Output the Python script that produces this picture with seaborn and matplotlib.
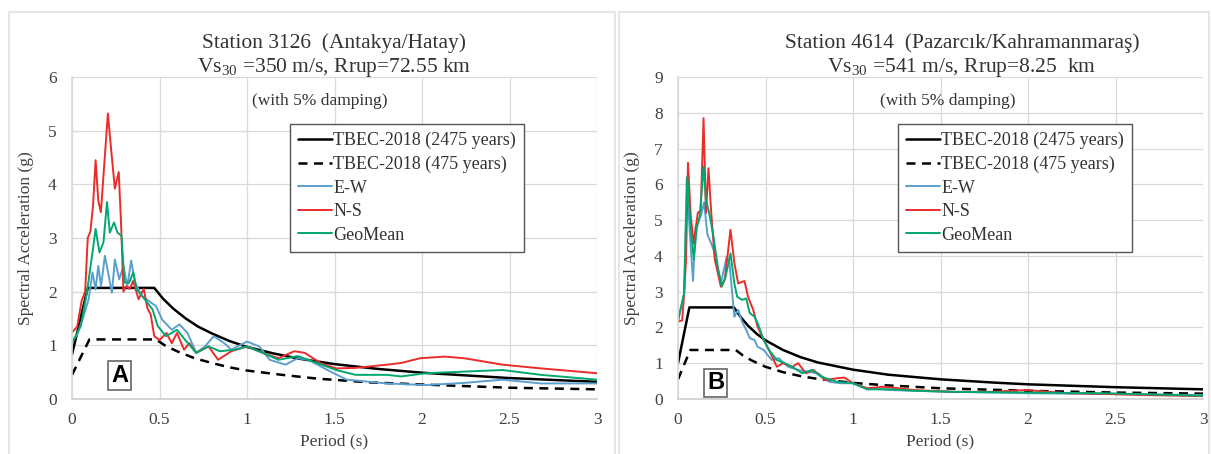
import numpy as np
import pandas as pd
import matplotlib.pyplot as plt
import seaborn as sns
from matplotlib.patches import Rectangle

# ---- data (period s, spectral acceleration g) ----
# Station 3126, design spectra
a_tbec2475_T = [0.0, 0.09, 0.47, 0.52, 0.58, 0.65, 0.72, 0.8, 0.9, 1.0, 1.15, 1.3, 1.5, 1.75, 2.0, 2.5, 3.0]
a_tbec2475 = [0.83, 2.07, 2.07, 1.87, 1.68, 1.50, 1.35, 1.22, 1.08, 0.97, 0.85, 0.75, 0.65, 0.56, 0.49, 0.39, 0.32]
a_tbec475_T = [0.0, 0.1, 0.48, 0.53, 0.6, 0.7, 0.8, 0.9, 1.0, 1.2, 1.4, 1.7, 2.0, 2.5, 3.0]
a_tbec475 = [0.45, 1.11, 1.11, 1.0, 0.89, 0.76, 0.67, 0.59, 0.53, 0.45, 0.38, 0.31, 0.27, 0.21, 0.18]

# Station 3126, recorded components
a_ew_T = [0.0, 0.03, 0.06, 0.095, 0.117, 0.135, 0.15, 0.166, 0.188, 0.21, 0.228, 0.245, 0.27, 0.294,
          0.316, 0.338, 0.36, 0.4, 0.45, 0.48, 0.515, 0.57, 0.614, 0.66, 0.71, 0.76, 0.81, 0.87, 0.91,
          1.0, 1.07, 1.13, 1.22, 1.29, 1.35, 1.46, 1.57, 1.8, 2.02, 2.24, 2.46, 2.68, 3.0]
a_ew = [1.07, 1.2, 1.48, 1.86, 2.36, 2.04, 2.48, 2.1, 2.67, 2.29, 1.98, 2.6, 2.23, 2.48,
        2.1, 2.58, 2.17, 1.92, 1.8, 1.73, 1.48, 1.29, 1.39, 1.23, 0.86, 0.98, 1.17, 1.04, 0.92,
        1.07, 0.98, 0.73, 0.64, 0.76, 0.73, 0.54, 0.36, 0.29, 0.26, 0.3, 0.36, 0.29, 0.29]
a_ns_T = [0.0, 0.03, 0.055, 0.075, 0.09, 0.105, 0.12, 0.135, 0.15, 0.165, 0.185, 0.205, 0.225, 0.245,
          0.267, 0.28, 0.294, 0.31, 0.33, 0.35, 0.38, 0.41, 0.43, 0.45, 0.47, 0.5, 0.54, 0.57, 0.6,
          0.64, 0.67, 0.71, 0.78, 0.835, 0.91, 1.0, 1.09, 1.18, 1.27, 1.33, 1.42, 1.51, 1.62, 1.8,
          1.88, 1.99, 2.13, 2.24, 2.46, 2.68, 3.0]
a_ns = [1.24, 1.35, 1.83, 2.0, 3.0, 3.12, 3.6, 4.45, 3.7, 3.48, 4.4, 5.32, 4.6, 3.92,
        4.23, 3.3, 2.0, 2.1, 2.05, 2.2, 1.86, 2.05, 1.7, 1.57, 1.17, 1.1, 1.23, 1.04, 1.23,
        0.92, 1.04, 0.86, 0.98, 0.73, 0.89, 0.98, 0.86, 0.76, 0.89, 0.86, 0.67, 0.57, 0.58, 0.64,
        0.67, 0.76, 0.79, 0.76, 0.64, 0.57, 0.48]
a_gm_T = [0.0, 0.05, 0.085, 0.117, 0.135, 0.157, 0.18, 0.2, 0.216, 0.24, 0.26, 0.283, 0.3, 0.327,
          0.35, 0.37, 0.415, 0.46, 0.49, 0.537, 0.6, 0.647, 0.71, 0.78, 0.845, 0.935, 1.0, 1.09,
          1.18, 1.29, 1.4, 1.51, 1.62, 1.8, 1.88, 2.02, 2.24, 2.46, 2.68, 3.0]
a_gm = [1.04, 1.36, 1.98, 2.73, 3.17, 2.73, 2.92, 3.67, 3.1, 3.29, 3.1, 3.04, 2.17, 2.17,
        2.36, 2.04, 1.86, 1.67, 1.36, 1.17, 1.29, 1.1, 0.86, 0.98, 0.89, 0.92, 0.98, 0.86,
        0.73, 0.8, 0.67, 0.54, 0.45, 0.45, 0.42, 0.48, 0.51, 0.54, 0.45, 0.36]

# Station 4614, design spectra
b_tbec2475_T = [0.0, 0.065, 0.32, 0.36, 0.4, 0.45, 0.5, 0.6, 0.7, 0.8, 1.0, 1.2, 1.5, 1.8, 2.0, 2.5, 3.0]
b_tbec2475 = [1.0, 2.56, 2.56, 2.28, 2.05, 1.82, 1.64, 1.37, 1.17, 1.02, 0.82, 0.68, 0.55, 0.46, 0.41, 0.33, 0.27]
b_tbec475_T = [0.0, 0.07, 0.33, 0.37, 0.42, 0.5, 0.6, 0.7, 0.8, 1.0, 1.2, 1.5, 2.0, 2.5, 3.0]
b_tbec475 = [0.55, 1.37, 1.37, 1.22, 1.08, 0.9, 0.75, 0.64, 0.56, 0.45, 0.38, 0.3, 0.23, 0.18, 0.15]

# Station 4614, recorded components
b_ew_T = [0.0, 0.035, 0.05, 0.068, 0.086, 0.1, 0.117, 0.135, 0.149, 0.168, 0.19, 0.21, 0.245, 0.278,
          0.294, 0.322, 0.344, 0.366, 0.39, 0.41, 0.437, 0.455, 0.49, 0.535, 0.575, 0.63, 0.687,
          0.74, 0.8, 0.865, 0.93, 1.0, 1.08, 1.22, 1.35, 1.57, 2.01, 2.45, 3.0]
b_ew = [2.16, 2.95, 6.2, 4.6, 3.3, 4.8, 4.95, 5.2, 5.5, 4.6, 4.35, 4.07, 3.23, 3.98,
        3.8, 2.3, 2.49, 2.16, 1.93, 1.7, 1.65, 1.46, 1.37, 1.09, 1.14, 0.9, 0.81,
        0.76, 0.72, 0.48, 0.44, 0.44, 0.3, 0.25, 0.23, 0.2, 0.16, 0.14, 0.11]
b_ns_T = [0.0, 0.024, 0.035, 0.046, 0.057, 0.073, 0.09, 0.113, 0.13, 0.146, 0.16, 0.174, 0.19, 0.21,
          0.245, 0.267, 0.3, 0.322, 0.344, 0.38, 0.4, 0.43, 0.455, 0.49, 0.52, 0.565, 0.6, 0.653,
          0.687, 0.73, 0.775, 0.84, 0.91, 0.95, 1.0, 1.08, 1.17, 1.26, 1.35, 1.57, 1.79, 1.99, 2.23,
          2.45, 2.67, 3.0]
b_ns = [2.16, 2.2, 2.95, 3.9, 6.6, 5.1, 4.35, 5.2, 5.28, 7.85, 5.2, 6.45, 5.2, 3.9,
        3.14, 3.33, 4.73, 3.8, 3.23, 3.3, 2.86, 2.49, 2.02, 1.65, 1.37, 0.9, 1.0, 0.9,
        1.0, 0.72, 0.81, 0.53, 0.58, 0.6, 0.44, 0.3, 0.34, 0.3, 0.25, 0.2, 0.2, 0.25, 0.16,
        0.14, 0.11, 0.08]
b_gm_T = [0.0, 0.035, 0.053, 0.073, 0.09, 0.108, 0.124, 0.146, 0.16, 0.178, 0.2, 0.227, 0.25, 0.272,
          0.3, 0.322, 0.338, 0.366, 0.39, 0.41, 0.437, 0.455, 0.49, 0.52, 0.565, 0.61, 0.653,
          0.71, 0.765, 0.82, 0.91, 1.0, 1.08, 1.22, 1.35, 1.57, 2.01, 2.45, 3.0]
b_gm = [2.2, 2.95, 6.2, 4.8, 3.9, 4.8, 5.1, 6.5, 5.56, 5.2, 4.63, 3.7, 3.14, 3.42,
        4.07, 3.23, 2.86, 2.77, 2.81, 2.4, 2.3, 2.12, 1.65, 1.37, 1.09, 1.0, 0.9,
        0.72, 0.81, 0.62, 0.48, 0.44, 0.27, 0.27, 0.23, 0.2, 0.18, 0.16, 0.09]

x_ticks = [0, 0.5, 1, 1.5, 2, 2.5, 3]
x_ticklabels = ["0", "0.5", "1", "1.5", "2", "2.5", "3"]
legend_labels = ["TBEC-2018 (2475 years)", "TBEC-2018 (475 years)", "E-W", "N-S", "GeoMean"]

panels = [
    dict(tag="A", ymax=6,
         title1="Station 3126  (Antakya/Hatay)",
         title2="Vs$_{\\rm 30}$ =350 m/s, Rrup=72.55 km",
         series=[(a_tbec2475_T, a_tbec2475), (a_tbec475_T, a_tbec475),
                 (a_ew_T, a_ew), (a_ns_T, a_ns), (a_gm_T, a_gm)]),
    dict(tag="B", ymax=9,
         title1="Station 4614  (Pazarcık/Kahramanmaraş)",
         title2="Vs$_{\\rm 30}$ =541 m/s, Rrup=8.25  km",
         series=[(b_tbec2475_T, b_tbec2475), (b_tbec475_T, b_tbec475),
                 (b_ew_T, b_ew), (b_ns_T, b_ns), (b_gm_T, b_gm)]),
]

# ---- styling ----
sns.set_theme(style="whitegrid")
plt.rcParams["font.family"] = ["Liberation Serif", "DejaVu Serif"]
plt.rcParams["mathtext.fontset"] = "custom"
plt.rcParams["mathtext.rm"] = "Liberation Serif"

colors = ["black", "black", "#5b9fd0", "#ec2b2b", "#00a870"]
widths = [1.8, 1.8, 1.4, 1.4, 1.4]
W, H = 1211, 454

fig = plt.figure(figsize=(W / 100, H / 100), dpi=100)

# light panel frames
for x0, x1 in [(9, 615), (619, 1209)]:
    fig.add_artist(Rectangle((x0 / W, -0.05), (x1 - x0) / W, 1.05 - 12 / H,
                             transform=fig.transFigure, fill=False,
                             edgecolor="#e2e2e2", lw=1.2))

ax_left = [72, 678]
title_cx = [334, 962]
damp_cx = [320, 948]
leg_x = [290, 898]
tag_pos = [(0.091, 0.072), (0.072, 0.05)]

for i, p in enumerate(panels):
    ax = fig.add_axes([ax_left[i] / W, 55 / H, 525 / W, 322 / H])
    for k, (tx, sa) in enumerate(p["series"]):
        df = pd.DataFrame({"T": tx, "Sa": sa})
        sns.lineplot(data=df, x="T", y="Sa", ax=ax, color=colors[k],
                     lw=widths[k], label=legend_labels[k], sort=False)
    ax.lines[1].set_dashes((3.6, 2.6))

    ax.set_xlim(0, 3)
    ax.set_ylim(0, p["ymax"])
    ax.set_xticks(x_ticks)
    ax.set_xticklabels(x_ticklabels)
    ax.set_yticks(range(0, p["ymax"] + 1))
    ax.grid(True, color="#d9d9d9", lw=0.9)
    for s in ax.spines.values():
        s.set_visible(False)
    ax.spines["bottom"].set_visible(True)
    ax.spines["bottom"].set_color("#d0d0d0")
    ax.spines["left"].set_visible(True)
    ax.spines["left"].set_color("#d9d9d9")
    ax.tick_params(axis="both", length=0, labelsize=12.5, colors="#404040")
    ax.tick_params(axis="y", pad=11)
    ax.tick_params(axis="x", pad=9)
    ax.set_xlabel("Period (s)", fontsize=12.5, color="#404040", labelpad=4)
    ax.set_ylabel("Spectral Acceleration (g)", fontsize=12.5, color="#404040", labelpad=10)

    leg = ax.legend(loc="upper left", bbox_to_anchor=(leg_x[i] / W, 1 - 124 / H),
                    bbox_transform=fig.transFigure, borderaxespad=0, fontsize=13,
                    handlelength=1.9, handletextpad=0.05, labelspacing=0.36,
                    borderpad=0.45, fancybox=False, framealpha=1, edgecolor="#555555")
    leg.get_frame().set_linewidth(1.0)
    for t in leg.get_texts():
        t.set_color("#333333")

    fig.text(title_cx[i] / W, 1 - 48 / H, p["title1"], ha="center", va="baseline",
             fontsize=15.5, color="#333333")
    fig.text(title_cx[i] / W, 1 - 72 / H, p["title2"], ha="center", va="baseline",
             fontsize=15.5, color="#333333")
    fig.text(damp_cx[i] / W, 1 - 105 / H, "(with 5% damping)", ha="center", va="baseline",
             fontsize=12.5, color="#333333")

    ax.text(tag_pos[i][0], tag_pos[i][1], p["tag"], transform=ax.transAxes,
            ha="center", va="center", fontsize=17, fontweight="bold",
            family="Liberation Sans", color="black",
            bbox=dict(boxstyle="square,pad=0.12", fc="white", ec="#666666", lw=1.2))

fig.savefig("out.png", dpi=100)
